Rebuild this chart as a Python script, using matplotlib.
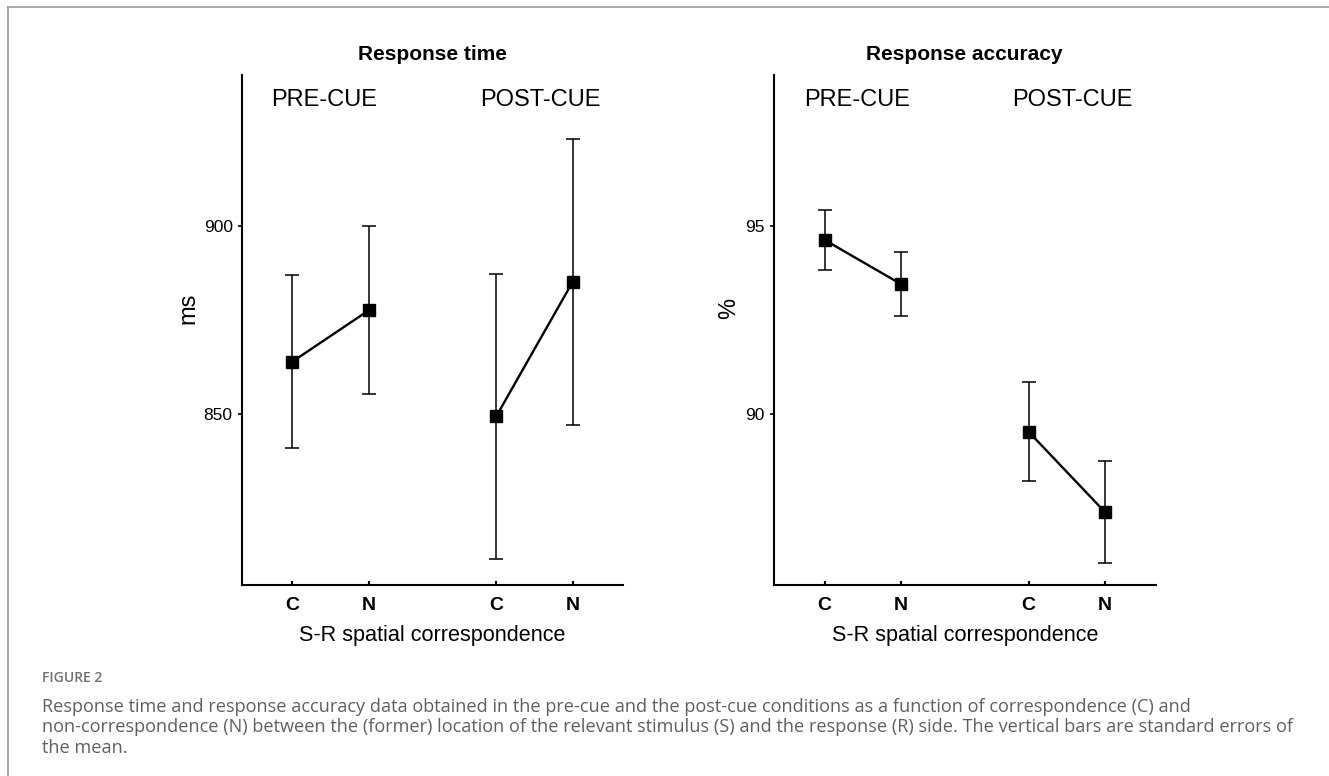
import matplotlib
matplotlib.use("Agg")
import matplotlib.pyplot as plt
from matplotlib.lines import Line2D

plt.rcParams['font.family'] = ['Liberation Sans', 'DejaVu Sans']

# ---- data ----
categories = ["C", "N", "C", "N"]
conditions = ["PRE-CUE", "POST-CUE"]
rt_mean = [864.0, 877.6, 849.5, 885.1]
rt_se = [23.0, 22.3, 37.8, 38.0]
acc_mean = [94.63, 93.46, 89.54, 87.41]
acc_se = [0.80, 0.85, 1.31, 1.35]
rt_yticks = [850, 900]
acc_yticks = [90, 95]
titles = ["Response time", "Response accuracy"]
ylabels = ["ms", "%"]
xlabel = "S-R spatial correspondence"
fig_label = "FIGURE 2"
caption_lines = [
    "Response time and response accuracy data obtained in the pre-cue and the post-cue conditions as a function of correspondence (C) and",
    "non-correspondence (N) between the (former) location of the relevant stimulus (S) and the response (R) side. The vertical bars are standard errors of",
    "the mean.",
]

W, H = 1329, 776
fig = plt.figure(figsize=(W / 100, H / 100), dpi=100)

xpos = [1.0, 2.0, 3.675, 4.675]
xlim = (0.335, 5.34)

panels = [
    dict(left=241.7, mean=rt_mean, se=rt_se, ylim=(804.7, 940.1), yticks=rt_yticks,
         title=titles[0], ylabel=ylabels[0], ylab_x=188),
    dict(left=774.0, mean=acc_mean, se=acc_se, ylim=(85.47, 99.01), yticks=acc_yticks,
         title=titles[1], ylabel=ylabels[1], ylab_x=729),
]

ax_w = 381.5
top_px, bot_px = 75, 585
for p in panels:
    ax = fig.add_axes([p['left'] / W, (H - bot_px) / H, ax_w / W, (bot_px - top_px) / H])
    for sp in ['top', 'right']:
        ax.spines[sp].set_visible(False)
    for sp in ['left', 'bottom']:
        ax.spines[sp].set_linewidth(1.5)
    m, s = p['mean'], p['se']
    for i0 in (0, 2):
        xs = xpos[i0:i0 + 2]
        ax.errorbar(xs, m[i0:i0 + 2], yerr=s[i0:i0 + 2], fmt='s-', color='black',
                    markersize=8.5, linewidth=1.7, elinewidth=1.1, capsize=5,
                    capthick=1.1, zorder=3)
    ax.set_xlim(*xlim)
    ax.set_ylim(*p['ylim'])
    ax.set_xticks(xpos)
    ax.set_xticklabels(categories, fontsize=14, fontweight='bold')
    ax.set_yticks(p['yticks'])
    ax.set_yticklabels([str(v) for v in p['yticks']], fontsize=12.5)
    ax.tick_params(axis='x', direction='in', length=3, width=1.5, pad=8.5)
    ax.tick_params(axis='y', direction='out', length=3, width=1.2, pad=3.5)
    # condition labels
    for j, cond in enumerate(conditions):
        cx = (xpos[2 * j] + xpos[2 * j + 1]) / 2 + (-0.08 if j == 0 else 0.08)
        ax.text(cx, (bot_px - 106) / (bot_px - top_px), cond, fontsize=17,
                ha='center', va='baseline',
                transform=ax.get_xaxis_transform())
    ax.text((p['ylab_x'] - p['left']) / ax_w, (bot_px - 308) / (bot_px - top_px),
            p['ylabel'], rotation=90, fontsize=17, ha='center', va='center',
            transform=ax.transAxes)
    ax.text(0.5, (bot_px - 641) / (bot_px - top_px), xlabel, fontsize=15.6,
            ha='center', va='baseline', transform=ax.transAxes)
    fig.text((p['left'] + ax_w / 2) / W, (H - 59.6) / H, p['title'], fontsize=15,
             fontweight='bold', ha='center', va='baseline')

# caption
cap_color = '#5f5f5f'
fig.text(42 / W, (H - 681.7) / H, fig_label, fontsize=10, fontweight='semibold',
         family=['Open Sans', 'DejaVu Sans'], color='#707070', ha='left', va='baseline')
for k, line in enumerate(caption_lines):
    fig.text(42 / W, (H - (711.7 + 20.5 * k)) / H, line, fontsize=13.1,
             family=['Open Sans', 'DejaVu Sans'], color=cap_color, ha='left', va='baseline')

# frame (left and top edges)
fig.add_artist(Line2D([8 / W, 8 / W], [0, (H - 7) / H], color='#9a9a9a', linewidth=1.2,
                      transform=fig.transFigure))
fig.add_artist(Line2D([8 / W, 1], [(H - 7) / H, (H - 7) / H], color='#9a9a9a', linewidth=1.2,
                      transform=fig.transFigure))

fig.savefig('out.png', dpi=100, facecolor='white')
